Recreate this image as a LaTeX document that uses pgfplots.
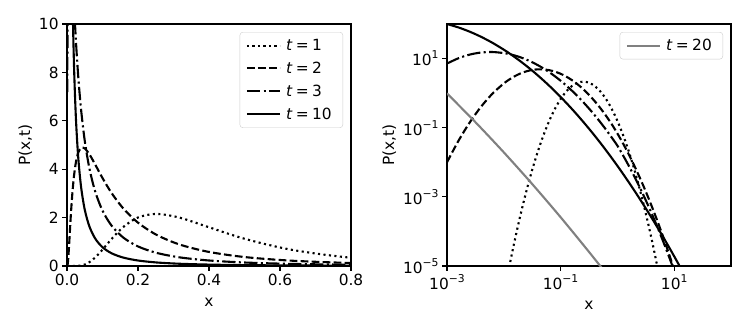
\documentclass[border=0pt]{standalone}
\usepackage{fontspec}
\setmainfont{DejaVu Sans}
\usepackage{pgfplots}
\usepackage{pgfplotstable}
\pgfplotsset{compat=1.18}

% 10^k tick labels in the text font
\newcommand\pw[1]{10\raisebox{0.45em}{\fontsize{10.8pt}{11pt}\selectfont #1}}
\newcommand\tl[1]{\textit{t}\hspace{0.22em}=\hspace{0.22em}#1}
\newcommand\mplfont{\fontsize{15.4pt}{18pt}\selectfont}

% columns: x, P(x,t) for t = 1, 2, 3, 10
\pgfplotstableread{
x        t1        t2       t3       t10
0.001    1.6e-18   0.01001  7.18     100
0.0015849 1.2e-15  0.04135  10.20    79.7
0.0025119 5.4e-13  0.1420   13.03    60.0
0.0039811 1.34e-10 0.4059   14.97    42.6
0.0063096 1.86e-8  0.9647   15.46    28.6
0.01     1.44e-6   1.907    14.42    18.1
0.012589 1.022e-5  2.502    13.42    14.09
0.015849 6.27e-5   3.136    12.18    10.81
0.019953 3.32e-4   3.753    10.78    8.18
0.025119 1.524e-3  4.290    9.307    6.10
0.031623 6.05e-3   4.683    7.839    4.49
0.039811 0.02075   4.881    6.442    3.25
0.050119 0.0616    4.859    5.163    2.32
0.063096 0.158     4.618    4.036    1.635
0.079433 0.351     4.193    3.078    1.135
0.1      0.675     3.635    2.289    0.776
0.12589  1.121     3.009    1.661    0.5235
0.15849  1.611     2.379    1.176    0.348
0.19953  2.002     1.796    0.8114   0.228
0.25119  2.153     1.296    0.5465   0.147
0.31623  2.002     0.8920   0.3590   0.0937
0.39811  1.611     0.5867   0.2300   0.0588
0.50119  1.121     0.3684   0.1438   0.0364
0.63096  0.675     0.2210   0.08765  0.0222
0.79433  0.351     0.1266   0.05212  0.01333
1        0.158     0.06818  0.03023  7.90e-3
1.2589   0.0616    0.03486  0.01580  4.61e-3
1.5849   0.02075   0.01694  7.94e-3  2.65e-3
1.9953   6.05e-3   7.82e-3  3.84e-3  1.506e-3
2.5119   1.524e-3  3.42e-3  1.781e-3 8.42e-4
3.1623   3.32e-4   1.422e-3 7.95e-4  4.64e-4
3.9811   6.27e-5   5.59e-4  3.39e-4  2.52e-4
5.0119   1.022e-5  2.087e-4 1.387e-4 1.351e-4
6.3096   1.44e-6   7.37e-5  5.43e-5  7.14e-5
7.9433   1.76e-7   2.462e-5 2.032e-5 3.71e-5
10       1.86e-8   7.79e-6  7.26e-6  1.905e-5
12.589   1.7e-9    2.33e-6  2.48e-6  9.63e-6
15.849   1.34e-10  6.58e-7  8.06e-7  4.80e-6
}\curves

\pgfplotstableread{
x         t20
0.001     0.98
0.0031623 0.1449
0.01      0.01941
0.031623  2.35e-3
0.1       2.58e-4
0.31623   2.56e-5
0.63096   6.11e-6
}\greycurve

\pgfplotsset{
  mpl/.style={
    scale only axis, width=284pt, height=242pt, anchor=south west,
    axis line style={line width=1.1pt},
    tick align=outside, tick pos=left,
    major tick length=4.9pt,
    every tick/.style={black, line width=1.1pt},
    tick label style={font=\mplfont},
    label style={font=\mplfont},
    xlabel style={yshift=-5pt},
    legend cell align=left,
    legend style={font=\mplfont, draw=black!20, rounded corners=3pt, fill=white,
      at={(rel axis cs:1,1)}, anchor=north east, xshift=-8pt, yshift=-8pt,
      inner xsep=6pt, inner ysep=5pt, row sep=6pt,
      nodes={inner xsep=5pt}},
    legend image code/.code={\draw[##1] (0pt,0pt) -- (33pt,0pt);},
  },
  st1/.style={black, line width=2.1pt, dash pattern=on 2.1pt off 3.4pt},
  st2/.style={black, line width=2.1pt, dash pattern=on 7.7pt off 3.3pt},
  st3/.style={black, line width=2.1pt, dash pattern=on 13.3pt off 3.3pt on 2.1pt off 3.3pt},
  st10/.style={black, line width=2.1pt},
}

\begin{document}
\begin{tikzpicture}
\useasboundingbox (0,0) rectangle (748pt,333pt);

\begin{axis}[mpl, at={(67pt,67pt)},
  xmin=0, xmax=0.8, ymin=0, ymax=10,
  xtick={0,0.2,0.4,0.6,0.8}, xticklabels={0.0,0.2,0.4,0.6,0.8},
  ytick={0,2,4,6,8,10}, yticklabels={0,2,4,6,8,10},
  xlabel={x}, ylabel={P(x,t)},
]
\addplot[st1, smooth] table[x=x, y=t1, restrict x to domain=0:1] {\curves};
\addlegendentry{\tl{1}}
\addplot[st2, smooth] table[x=x, y=t2, restrict x to domain=0:1] {\curves};
\addlegendentry{\tl{2}}
\addplot[st3, smooth] table[x=x, y=t3, restrict x to domain=0:1] {\curves};
\addlegendentry{\tl{3}}
\addplot[st10, smooth] table[x=x, y=t10, restrict x to domain=0:1] {\curves};
\addlegendentry{\tl{10}}
\end{axis}

\begin{axis}[mpl, at={(447pt,67pt)},
  xmode=log, ymode=log,
  xmin=1e-3, xmax=1e2, ymin=1e-5, ymax=1e2,
  xtick={1e-3,1e-1,1e1}, xticklabels={\pw{−3},\pw{−1},\pw{1}},
  ytick={1e-5,1e-3,1e-1,1e1}, yticklabels={\pw{−5},\pw{−3},\pw{−1},\pw{1}},
  xminorticks=false, yminorticks=false,
  xlabel={x}, ylabel={P(x,t)},
]
\addplot[st1, smooth, forget plot] table[x=x, y=t1] {\curves};
\addplot[st2, smooth, forget plot] table[x=x, y=t2] {\curves};
\addplot[st3, smooth, forget plot] table[x=x, y=t3] {\curves};
\addplot[st10, smooth, forget plot] table[x=x, y=t10] {\curves};
\addplot[gray, line width=2.1pt, smooth] table[x=x, y=t20] {\greycurve};
\addlegendentry{\tl{20}}
\end{axis}
\end{tikzpicture}
\end{document}
